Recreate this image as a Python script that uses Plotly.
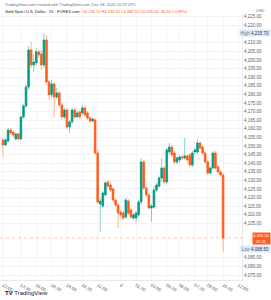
import plotly.graph_objects as go

# ---- data (Gold Spot / USD, 15-min candles) ----
opens = [4153.5, 4150.6, 4152.9, 4159.3, 4158.1, 4154.1, 4157.0, 4154.1, 4166.9, 4173.3,
         4184.3, 4205.8, 4197.1, 4198.3, 4204.7, 4203.5, 4197.1, 4211.6, 4187.2, 4179.7,
         4186.0, 4178.5, 4180.8, 4173.8, 4166.9, 4170.9, 4161.0, 4164.0, 4170.9, 4166.9,
         4169.8, 4169.2, 4172.1, 4169.2, 4166.3, 4164.5, 4165.1, 4145.9, 4116.3, 4115.1,
         4121.5, 4129.1, 4127.3, 4125.0, 4118.6, 4115.7, 4111.6, 4111.0, 4108.7, 4118.0,
         4112.8, 4108.1, 4108.1, 4109.9, 4117.4, 4140.7, 4125.6, 4121.5, 4114.0, 4114.5,
         4124.4, 4126.7, 4131.4, 4137.2, 4129.1, 4146.5, 4149.4, 4145.9, 4140.7, 4141.9,
         4143.6, 4143.0, 4144.2, 4144.8, 4139.0, 4146.5, 4146.5, 4151.7, 4149.4, 4145.9,
         4140.7, 4134.3, 4137.2, 4145.9, 4137.8, 4134.9, 4133.1]
highs = [4154.7, 4154.7, 4160.5, 4160.5, 4158.7, 4157.6, 4157.6, 4167.4, 4174.4, 4185.5,
         4208.1, 4210.5, 4202.9, 4207.0, 4205.8, 4205.8, 4215.7, 4214.5, 4188.4, 4188.4,
         4187.2, 4183.7, 4182.6, 4175.0, 4172.1, 4172.1, 4165.1, 4172.1, 4172.1, 4170.3,
         4170.9, 4173.8, 4173.3, 4170.3, 4167.4, 4166.9, 4166.3, 4147.7, 4119.8, 4123.8,
         4129.7, 4130.2, 4128.5, 4126.2, 4119.8, 4116.9, 4112.8, 4112.2, 4119.8, 4119.2,
         4114.0, 4111.0, 4112.2, 4118.6, 4143.0, 4141.9, 4126.7, 4122.7, 4116.3, 4126.7,
         4128.5, 4132.6, 4143.0, 4138.4, 4148.8, 4151.7, 4150.6, 4147.1, 4144.2, 4144.8,
         4144.8, 4154.7, 4145.3, 4145.9, 4147.1, 4148.8, 4154.1, 4152.9, 4150.6, 4147.1,
         4141.9, 4138.4, 4147.1, 4147.1, 4139.0, 4136.0, 4134.3]
lows = [4143.6, 4150.0, 4151.7, 4156.4, 4155.2, 4153.5, 4152.9, 4153.5, 4165.7, 4172.1,
        4182.6, 4195.3, 4193.0, 4196.5, 4201.2, 4194.2, 4195.3, 4185.5, 4176.7, 4177.9,
        4166.9, 4177.3, 4172.1, 4165.1, 4165.7, 4159.9, 4157.6, 4162.8, 4165.7, 4166.3,
        4165.7, 4168.0, 4166.9, 4165.1, 4163.4, 4164.0, 4144.8, 4116.3, 4100.0, 4114.0,
        4120.9, 4125.6, 4123.3, 4117.4, 4114.5, 4102.3, 4108.7, 4107.0, 4107.6, 4109.9,
        4107.6, 4107.0, 4105.8, 4108.7, 4116.3, 4124.4, 4120.3, 4112.8, 4105.8, 4113.4,
        4123.3, 4125.6, 4129.1, 4127.9, 4127.9, 4145.3, 4143.6, 4139.5, 4139.5, 4140.7,
        4141.9, 4141.9, 4140.1, 4137.8, 4137.8, 4145.3, 4145.3, 4147.7, 4144.8, 4139.5,
        4133.1, 4133.1, 4136.0, 4136.0, 4133.7, 4132.0, 4088.5]
closes = [4150.6, 4153.5, 4159.3, 4157.6, 4156.4, 4157.0, 4154.1, 4166.9, 4173.3, 4184.3,
          4205.8, 4197.1, 4198.8, 4204.7, 4202.9, 4197.1, 4211.6, 4187.2, 4179.7, 4186.0,
          4178.5, 4180.8, 4173.8, 4166.9, 4170.9, 4161.0, 4164.0, 4170.9, 4166.9, 4169.2,
          4166.9, 4172.1, 4168.0, 4166.3, 4164.5, 4165.7, 4145.9, 4117.4, 4118.0, 4122.7,
          4128.5, 4126.7, 4124.4, 4118.6, 4115.7, 4111.0, 4109.9, 4108.1, 4118.6, 4111.0,
          4108.7, 4109.9, 4111.0, 4117.4, 4140.7, 4125.6, 4121.5, 4114.0, 4115.1, 4124.4,
          4127.3, 4131.4, 4137.2, 4129.1, 4147.7, 4149.4, 4144.8, 4140.7, 4143.0, 4143.6,
          4143.0, 4144.2, 4141.9, 4139.0, 4145.9, 4147.7, 4151.7, 4148.8, 4145.9, 4140.7,
          4134.3, 4137.2, 4145.9, 4137.2, 4134.9, 4133.1, 4096.5]

time_tick_index = [0, 7, 13, 19, 25, 31, 37, 46, 52, 58, 64, 69, 75, 80, 86, 92]
time_labels = ["12:00", "13:30", "15:00", "16:30", "18:00", "19:30", "21:00", "8",
               "01:30", "03:00", "04:30", "06:00", "07:30", "09:00", "10:30", "12:00"]

price_ticks = [4075 + 5 * k for k in range(31)]

symbol_title = "Gold Spot / U.S. Dollar · 15 · FOREX.com"
stamp = "TradingView.com created with TradingView.com, Dec 08, 2025 10:29 UTC"
countdown = "05:31"

UP = "#089981"
DOWN = "#FF5C1A"
UP_WICK = "rgba(8,153,129,0.45)"
DOWN_WICK = "rgba(255,92,26,0.45)"
FONT = "Liberation Sans, Arial, sans-serif"

x = list(range(len(opens)))
body_hi = [max(o, c) for o, c in zip(opens, closes)]
body_lo = [min(o, c) for o, c in zip(opens, closes)]

last = closes[-1]
hi_val = max(highs)
lo_val = min(lows)
chg = last - opens[-1]
pct = chg / opens[-1] * 100

# price-scale labels hidden where the High / Low / last-price badges sit
shown_ticks = [t for t in price_ticks
               if abs(t - last) > 3.6 and abs(t - lo_val) > 3 and abs(t - hi_val) > 3]

fig = go.Figure()
# wicks (pale)
fig.add_trace(go.Candlestick(
    x=x, open=opens, high=highs, low=lows, close=closes,
    increasing=dict(line=dict(color=UP_WICK, width=1), fillcolor=UP_WICK),
    decreasing=dict(line=dict(color=DOWN_WICK, width=1), fillcolor=DOWN_WICK),
    whiskerwidth=0, showlegend=False, hoverinfo="skip"))
# bodies (solid)
fig.add_trace(go.Candlestick(
    x=x, open=opens, high=body_hi, low=body_lo, close=closes,
    increasing=dict(line=dict(color=UP, width=0.5), fillcolor=UP),
    decreasing=dict(line=dict(color=DOWN, width=0.5), fillcolor=DOWN),
    whiskerwidth=0, showlegend=False))

fig.add_shape(type="line", xref="paper", x0=0, x1=1, yref="y", y0=last, y1=last,
              line=dict(color="rgba(255,92,26,0.35)", width=1, dash="dot"))

ann = []
ann.append(dict(xref="paper", yref="paper", x=0.012, y=1.034, xanchor="left", yanchor="middle",
                text=stamp, showarrow=False, font=dict(size=4, color="#6a6d78", family=FONT)))
ann.append(dict(xref="paper", yref="paper", x=0.012, y=1.010, xanchor="left", yanchor="middle",
                text=(f"<span style='color:#131722'>{symbol_title}</span>  "
                      f"<span style='color:{DOWN}'>O{opens[-1]:,.2f} H{highs[-1]:,.2f} "
                      f"L{lows[-1]:,.2f} C{last:,.2f} {chg:+,.2f} ({pct:+.2f}%)</span>"),
                showarrow=False, font=dict(size=4, family=FONT)))
ann.append(dict(xref="paper", yref="paper", x=1.075, y=1.015, xanchor="center", yanchor="middle",
                text="USD", showarrow=False, font=dict(size=4, color="#6a6d78", family=FONT)))
# high / low / last labels on the price scale
ann.append(dict(xref="paper", yref="y", x=1.118, y=hi_val, xanchor="right", yanchor="middle",
                text=f"<span style='color:#787b86'>High</span> {hi_val:,.2f}", showarrow=False,
                bgcolor="#dde9fb", borderpad=0.5, font=dict(size=4.5, color="#2a3b5c", family=FONT)))
ann.append(dict(xref="paper", yref="y", x=1.118, y=lo_val + 1.5, xanchor="right", yanchor="middle",
                text=f"<span style='color:#787b86'>Low</span> {lo_val:,.2f}", showarrow=False,
                bgcolor="#dde9fb", borderpad=0.5, font=dict(size=4.5, color="#2a3b5c", family=FONT)))
ann.append(dict(xref="paper", yref="y", x=1.12, y=last, xanchor="right", yanchor="middle",
                text=f"{last:,.2f}<br>{countdown}", showarrow=False,
                bgcolor=DOWN, borderpad=0.3, font=dict(size=4, color="white", family=FONT)))
ann.append(dict(xref="paper", yref="paper", x=0.012, y=-0.049, xanchor="left", yanchor="middle",
                text="<b>TV</b> TradingView", showarrow=False,
                font=dict(size=6, color="#131722", family=FONT)))

fig.update_layout(
    width=271, height=300,
    margin=dict(l=0, r=29, t=14, b=20),
    paper_bgcolor="white", plot_bgcolor="white",
    annotations=ann,
    font=dict(family=FONT),
    boxgap=0.12,
    xaxis=dict(
        range=[-1.17, 93.4], rangeslider=dict(visible=False),
        tickmode="array", tickvals=time_tick_index, ticktext=time_labels,
        tickfont=dict(size=4.5, color="#5d606b"), ticks="", ticklen=0,
        showgrid=True, gridcolor="#f2f4f8", gridwidth=1,
        showline=True, linecolor="#e6e8ee", zeroline=False, fixedrange=True),
    yaxis=dict(
        range=[4072.1, 4226.7], side="right",
        tickmode="array", tickvals=shown_ticks,
        tickformat=",.2f", tickfont=dict(size=4.5, color="#5d606b"), ticks="",
        showgrid=True, gridcolor="#f2f4f8", gridwidth=1,
        showline=True, linecolor="#e6e8ee", zeroline=False, fixedrange=True),
    hovermode=False,
)

fig.write_html("out.html")
